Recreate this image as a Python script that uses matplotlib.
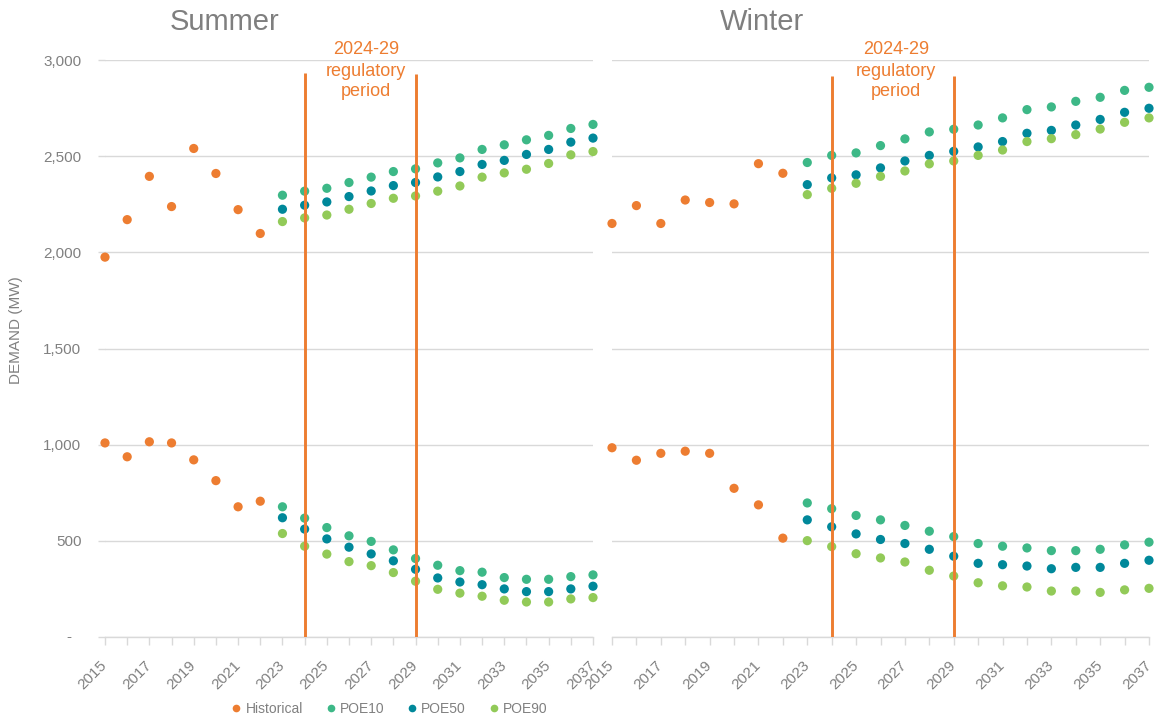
import matplotlib
matplotlib.use("Agg")
import matplotlib.pyplot as plt
from matplotlib import font_manager
from matplotlib.lines import Line2D
from matplotlib.transforms import ScaledTranslation

plt.rcParams['font.family'] = ['Liberation Sans', 'DejaVu Sans']

# ---------------- data ----------------
years = list(range(2015, 2038))
hist_years = list(range(2015, 2023))
fc_years = list(range(2023, 2038))

summer_hist_peak = [1975, 2170, 2395, 2238, 2540, 2410, 2222, 2098]
summer_hist_min = [1009, 937, 1015, 1009, 921, 813, 677, 706]
summer_poe10_peak = [2297, 2318, 2333, 2363, 2391, 2420, 2434, 2465, 2491, 2535, 2559, 2585, 2608, 2644, 2665]
summer_poe50_peak = [2224, 2245, 2262, 2290, 2319, 2347, 2363, 2392, 2420, 2457, 2478, 2509, 2535, 2573, 2594]
summer_poe90_peak = [2160, 2179, 2194, 2224, 2254, 2281, 2293, 2318, 2345, 2391, 2413, 2432, 2462, 2507, 2524]
summer_poe10_min = [677, 618, 569, 526, 497, 453, 408, 373, 345, 337, 309, 300, 300, 314, 323]
summer_poe50_min = [620, 561, 510, 467, 432, 396, 352, 307, 286, 272, 250, 236, 236, 250, 264]
summer_poe90_min = [538, 472, 431, 392, 371, 335, 290, 248, 228, 212, 191, 182, 182, 198, 205]

winter_hist_peak = [2150, 2243, 2150, 2272, 2259, 2252, 2461, 2411]
winter_hist_min = [984, 919, 955, 966, 955, 773, 687, 514]
winter_poe10_peak = [2467, 2504, 2517, 2555, 2590, 2626, 2640, 2662, 2699, 2742, 2756, 2785, 2806, 2842, 2858]
winter_poe50_peak = [2352, 2387, 2403, 2439, 2475, 2504, 2525, 2548, 2576, 2619, 2634, 2662, 2691, 2728, 2749]
winter_poe90_peak = [2300, 2333, 2359, 2395, 2423, 2460, 2475, 2504, 2532, 2576, 2591, 2612, 2641, 2676, 2699]
winter_poe10_min = [697, 667, 632, 609, 580, 550, 522, 486, 472, 463, 449, 449, 456, 479, 493]
winter_poe50_min = [609, 573, 536, 507, 486, 456, 420, 383, 376, 369, 355, 362, 362, 383, 399]
winter_poe90_min = [501, 470, 433, 411, 390, 347, 317, 282, 266, 260, 239, 239, 232, 245, 253]

period_years = [2024, 2029]
summer_period_top = [2935, 2925]
winter_period_top = [2915, 2915]

y_ticks = [0, 500, 1000, 1500, 2000, 2500, 3000]
y_ticklabels = ["", "500", "1,000", "1,500", "2,000", "2,500", "3,000"]
x_ticklabels = [str(y) if y % 2 == 1 else "" for y in years]

series_names = ["Historical", "POE10", "POE50", "POE90"]
colors = {"Historical": "#ED7D31", "POE10": "#3DB887", "POE50": "#00889A", "POE90": "#92CA58"}
LINE_C = "#ED7D31"
GRID_C = "#D9D9D9"
TEXT_C = "#808080"

# ---------------- figure ----------------
W, H = 1155, 718
fig = plt.figure(figsize=(W / 100, H / 100), dpi=100)

def fx(px):
    return px / W

def fy(py):
    return 1 - py / H

ax_s = fig.add_axes([fx(105), fy(637), fx(593) - fx(105), fy(60) - fy(637)])
ax_w = fig.add_axes([fx(612), fy(637), fx(1149) - fx(612), fy(60) - fy(637)])

MS = 44
label_shift = ScaledTranslation(-5 / 100, 0, fig.dpi_scale_trans)

def draw_panel(ax, hist_peak, hist_min, p10p, p50p, p90p, p10m, p50m, p90m, ptop, show_y):
    ax.set_xlim(2015, 2037)
    ax.set_ylim(0, 3000)
    for side in ["top", "right", "left"]:
        ax.spines[side].set_visible(False)
    ax.spines["bottom"].set_color(GRID_C)
    ax.spines["bottom"].set_linewidth(1)
    ax.set_yticks(y_ticks)
    ax.yaxis.grid(True, color=GRID_C, linewidth=1)
    ax.set_axisbelow(True)
    ax.set_xticks(years)
    ax.tick_params(axis="x", direction="out", length=6, width=1, color=GRID_C, pad=9)
    ax.set_xticklabels(x_ticklabels, rotation=45, ha="right", va="top",
                       rotation_mode="anchor", fontsize=11, color=TEXT_C)
    for lbl in ax.get_xticklabels():
        lbl.set_transform(lbl.get_transform() + label_shift)
    if show_y:
        ax.tick_params(axis="y", direction="out", length=5, width=1, color=GRID_C, pad=12)
        ax.set_yticklabels(y_ticklabels, fontsize=11, color=TEXT_C)
        ax.text(-0.068, 0, "-", transform=ax.get_yaxis_transform(), ha="right", va="center",
                fontsize=11, color=TEXT_C)
    else:
        ax.tick_params(axis="y", length=0, labelleft=False)

    for (xs, ys, name) in [(hist_years, hist_peak, "Historical"), (hist_years, hist_min, "Historical"),
                           (fc_years, p10p, "POE10"), (fc_years, p10m, "POE10"),
                           (fc_years, p50p, "POE50"), (fc_years, p50m, "POE50"),
                           (fc_years, p90p, "POE90"), (fc_years, p90m, "POE90")]:
        ax.scatter(xs, ys, s=MS, color=colors[name], edgecolors="none", zorder=3, clip_on=False)

    for yr, top in zip(period_years, ptop):
        ax.plot([yr, yr], [0, top], color=LINE_C, linewidth=2.1, zorder=4, solid_capstyle="butt")

draw_panel(ax_s, summer_hist_peak, summer_hist_min, summer_poe10_peak, summer_poe50_peak,
           summer_poe90_peak, summer_poe10_min, summer_poe50_min, summer_poe90_min,
           summer_period_top, True)
draw_panel(ax_w, winter_hist_peak, winter_hist_min, winter_poe10_peak, winter_poe50_peak,
           winter_poe90_peak, winter_poe10_min, winter_poe50_min, winter_poe90_min,
           winter_period_top, False)

# titles
fig.text(fx(225), fy(22), "Summer", ha="center", va="center", fontsize=21, color="#7F7F7F")
fig.text(fx(762), fy(22), "Winter", ha="center", va="center", fontsize=21, color="#7F7F7F")

# period annotations
for cx in [366, 896]:
    fig.text(fx(cx), fy(49), "2024-29", ha="center", va="center", fontsize=13, color=LINE_C)
    fig.text(fx(cx), fy(71), "regulatory", ha="center", va="center", fontsize=13, color=LINE_C)
    fig.text(fx(cx), fy(92), "period", ha="center", va="center", fontsize=13, color=LINE_C)

# y label (narrow font if available)
names = {f.name for f in font_manager.fontManager.ttflist}
ylab_family = ['Liberation Sans Narrow', 'Liberation Sans'] if 'Liberation Sans Narrow' in names else ['Liberation Sans']
fig.text(fx(16), fy(330), "DEMAND (MW)", rotation=90, ha="center", va="center",
         fontsize=11, color=TEXT_C, family=ylab_family)

# legend
handles = [Line2D([0], [0], marker="o", linestyle="none", markersize=5.5,
                  markerfacecolor=colors[n], markeredgecolor="none", label=n) for n in series_names]
fig.legend(handles=handles, loc="center", bbox_to_anchor=(fx(389), fy(709)), ncol=4,
           frameon=False, fontsize=10, labelcolor=TEXT_C, handlelength=0.8,
           handletextpad=0.25, columnspacing=1.6, borderaxespad=0, borderpad=0)

fig.savefig("out.png", dpi=100)
